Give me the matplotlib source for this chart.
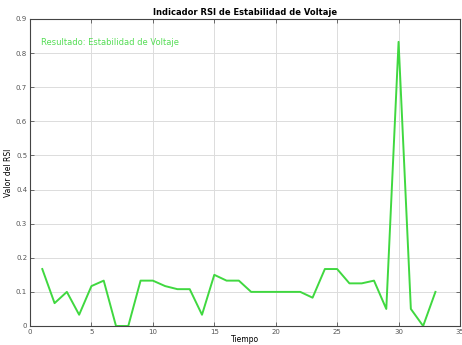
import matplotlib
matplotlib.use('Agg')
import matplotlib.pyplot as plt

# Datos del indicador RSI
tiempo = list(range(1, 34))
rsi = [0.167, 0.067, 0.100, 0.033, 0.117, 0.133, 0.000, 0.000, 0.133, 0.133,
       0.117, 0.108, 0.108, 0.033, 0.150, 0.133, 0.133, 0.100, 0.100, 0.100,
       0.100, 0.100, 0.083, 0.167, 0.167, 0.125, 0.125, 0.133, 0.050, 0.833,
       0.050, 0.000, 0.100]
xticks = [0, 5, 10, 15, 20, 25, 30, 35]
yticks = [0, 0.1, 0.2, 0.3, 0.4, 0.5, 0.6, 0.7, 0.8, 0.9]

verde = '#40d840'

fig = plt.figure(figsize=(4.62, 3.45), dpi=100)
ax = fig.add_axes([30 / 462, 19 / 345, 430 / 462, 307 / 345])

ax.plot(tiempo, rsi, color=verde, lw=1.4)
ax.text(0.9, 0.83, 'Resultado: Estabilidad de Voltaje', color='#55dd55',
        fontsize=6, va='center', ha='left')

ax.set_xlim(0, 35)
ax.set_ylim(0, 0.9)
ax.set_xticks(xticks)
ax.set_yticks(yticks)
ax.set_yticklabels(['0', '0.1', '0.2', '0.3', '0.4', '0.5', '0.6', '0.7', '0.8', '0.9'])
ax.grid(True, color='#dcdcdc', lw=0.7)
ax.set_axisbelow(True)
ax.tick_params(direction='in', top=True, right=True, labelsize=5, colors='#555555',
               length=3, width=0.6, pad=2)
for s in ax.spines.values():
    s.set_color('#444444')
    s.set_linewidth(0.8)

ax.set_title('Indicador RSI de Estabilidad de Voltaje', fontsize=6, fontweight='bold', pad=3)
ax.set_xlabel('Tiempo', fontsize=5.5, labelpad=0)
ax.set_ylabel('Valor del RSI', fontsize=5.5, labelpad=2)

fig.savefig('out.png', dpi=100)
